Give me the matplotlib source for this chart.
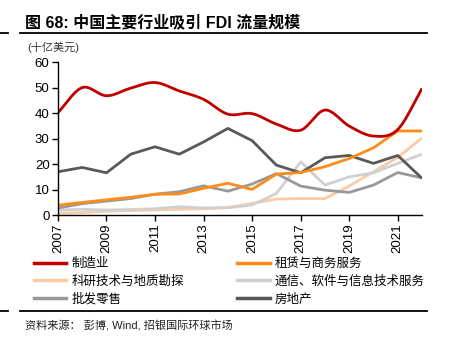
import numpy as np
import matplotlib
matplotlib.use("Agg")
import matplotlib.pyplot as plt
from matplotlib.lines import Line2D

plt.rcParams['font.family'] = ['Liberation Sans', 'Noto Sans CJK SC', 'DejaVu Sans']

years = list(range(2007, 2023))
manufacturing = [40.2, 50.0, 46.8, 49.8, 52.0, 48.7, 45.4, 39.6, 39.8, 35.7, 33.3, 41.2, 34.9, 31.0, 33.6, 49.7]
leasing = [3.9, 5.0, 6.0, 7.0, 8.2, 8.3, 10.5, 12.5, 10.1, 16.1, 16.7, 19.0, 22.2, 26.4, 33.0, 33.0]
research = [0.7, 1.0, 1.5, 1.8, 2.0, 2.3, 2.5, 3.0, 4.6, 6.3, 6.5, 6.5, 11.4, 17.0, 22.6, 30.3]
telecom = [2.0, 2.3, 2.0, 2.2, 2.5, 3.3, 2.8, 2.9, 4.0, 8.5, 20.9, 11.8, 15.0, 16.6, 20.3, 23.9]
wholesale = [2.8, 4.5, 5.5, 6.5, 8.2, 9.2, 11.5, 9.4, 12.2, 16.3, 11.4, 9.8, 8.9, 11.8, 16.7, 14.6]
realestate = [17.0, 18.7, 16.6, 23.9, 26.8, 23.9, 28.7, 34.0, 29.2, 19.6, 16.6, 22.5, 23.4, 20.3, 23.4, 14.4]

labels = ['制造业', '租赁与商务服务', '科研技术与地质勘探', '通信、软件与信息技术服务', '批发零售', '房地产']
colors = ['#C00000', '#FF8C1A', '#FBCBA6', '#D0D0D0', '#999999', '#595959']
yticks = [0, 10, 20, 30, 40, 50, 60]
xticks = list(range(2007, 2022, 2))


def catmull(x, y, n=20):
    x = np.asarray(x, float); y = np.asarray(y, float)
    xp = np.concatenate([[2 * x[0] - x[1]], x, [2 * x[-1] - x[-2]]])
    yp = np.concatenate([[2 * y[0] - y[1]], y, [2 * y[-1] - y[-2]]])
    xs, ys = [], []
    for i in range(1, len(xp) - 2):
        t = np.linspace(0, 1, n, endpoint=False)
        for arr, out in ((xp, xs), (yp, ys)):
            p0, p1, p2, p3 = arr[i - 1], arr[i], arr[i + 1], arr[i + 2]
            out.extend(0.5 * ((2 * p1) + (-p0 + p2) * t + (2 * p0 - 5 * p1 + 4 * p2 - p3) * t ** 2
                              + (-p0 + 3 * p1 - 3 * p2 + p3) * t ** 3))
    xs.append(x[-1]); ys.append(y[-1])
    return np.array(xs), np.array(ys)


fig = plt.figure(figsize=(4.49, 3.47), dpi=100)
ax = fig.add_axes([0.129, 0.380, 0.811, 0.441])

series = [manufacturing, leasing, research, telecom, wholesale, realestate]
order = [2, 3, 4, 5, 1, 0]
for i in order:
    if i == 0:
        xs, ys = catmull(years, series[i])
    else:
        xs, ys = years, series[i]
    ax.plot(xs, ys, color=colors[i], lw=2.0, solid_capstyle='butt')

ax.set_xlim(2007, 2022)
ax.set_ylim(0, 60)
ax.set_yticks(yticks)
ax.set_xticks(xticks)
ax.set_xticklabels([str(x) for x in xticks], rotation=90)
for s in ['top', 'right']:
    ax.spines[s].set_visible(False)
for s in ['left', 'bottom']:
    ax.spines[s].set_linewidth(1.0)
ax.tick_params(axis='both', labelsize=9.5, length=4, width=1.0, direction='out', pad=2, colors='black')

# legend filled row-wise, as in the reference
leg_order = [0, 2, 4, 1, 3, 5]
handles = [Line2D([], [], color=colors[i], lw=2.5) for i in leg_order]
fig.legend(handles, [labels[i] for i in leg_order], loc='upper left', bbox_to_anchor=(0.05, 0.29), ncol=2,
           frameon=False, fontsize=9, handlelength=2.6, handletextpad=0.4,
           columnspacing=4.3, labelspacing=0.45)

fig.text(0.055, 0.935, '图 68: 中国主要行业吸引 FDI 流量规模', fontsize=11.5, fontweight='bold', va='center')
fig.text(0.06, 0.865, '(十亿美元)', fontsize=8, va='center', color='#333333')
fig.text(0.055, 0.062, '资料来源： 彭博, Wind, 招银国际环球市场', fontsize=8, va='center', color='#222222')

for ypx in [33, 311]:
    yf = 1 - ypx / 347
    fig.add_artist(Line2D([20 / 449, 427 / 449], [yf, yf], color='black', lw=1.3))
    fig.add_artist(Line2D([0, 8 / 449], [yf, yf], color='black', lw=1.3))

fig.savefig('out.png', dpi=100)
